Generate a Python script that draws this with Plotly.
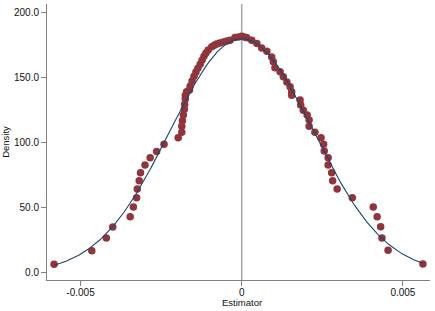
import numpy as np
import plotly.graph_objects as go

# Estimates (x) and their density values (y)
est_x = [-0.00582, -0.00465, -0.00420, -0.00400, -0.00346, -0.00336, -0.00326, -0.00324,
         -0.00318, -0.00314, -0.00300, -0.00284, -0.00264, -0.00241, -0.00197, -0.00186,
         -0.00186, -0.00184, -0.00181, -0.00178, -0.00177, -0.00175, -0.00175, -0.00171,
         -0.00162, -0.00160, -0.00154, -0.00148, -0.00142, -0.00136, -0.00129, -0.00123,
         -0.00117, -0.00111, -0.00104, -0.00093, -0.00085, -0.00078, -0.00068, -0.00057,
         -0.00046, -0.00036, -0.00021, -0.00010, 0.00000,
         0.00008, 0.00016, 0.00031, 0.00047, 0.00062, 0.00078, 0.00093, 0.00098, 0.00103,
         0.00119, 0.00129, 0.00140, 0.00150, 0.00155, 0.00155, 0.00181, 0.00183, 0.00191,
         0.00203, 0.00209, 0.00209, 0.00227, 0.00246, 0.00254, 0.00256, 0.00268, 0.00268,
         0.00279, 0.00282, 0.00296, 0.00343, 0.00408, 0.00420, 0.00431, 0.00435, 0.00454,
         0.00562]
est_y = [6.4, 16.9, 26.6, 35.1, 43.0, 50.4, 57.5, 64.2,
         70.6, 76.7, 82.6, 88.2, 93.0, 98.6, 103.6, 107.9,
         112.5, 116.6, 121.0, 125.4, 129.4, 133.3, 136.1, 138.9,
         140.2, 143.2, 147.1, 150.9, 154.0, 157.0, 160.1, 163.2,
         166.2, 168.6, 170.9, 173.4, 174.6, 175.5, 176.4, 177.2,
         177.8, 178.5, 180.6, 181.0, 181.6,
         181.0, 180.3, 178.5, 176.0, 172.6, 170.1, 165.7, 161.9, 157.3,
         154.2, 150.4, 146.5, 142.7, 138.9, 136.3, 132.5, 128.7, 124.8,
         121.0, 117.2, 112.5, 107.9, 103.6, 98.7, 93.4, 88.2, 82.6,
         76.7, 70.6, 64.2, 57.5, 50.4, 43.0, 35.3, 26.6, 17.2,
         6.7]

# Normal density parameters
norm_mean = 0.0
norm_sd = 0.00222

x_ticks = [-0.005, 0, 0.005]
x_tick_labels = ["-0.005", "0", "0.005"]
y_ticks = [0, 50, 100, 150, 200]
y_tick_labels = ["0.0", "50.0", "100.0", "150.0", "200.0"]

xr = [-0.00604, 0.00584]
yr = [-5.6, 206.3]

cx = np.linspace(min(est_x), max(est_x), 400)
cy = np.exp(-0.5 * ((cx - norm_mean) / norm_sd) ** 2) / (norm_sd * np.sqrt(2 * np.pi))

fig = go.Figure()
fig.add_trace(go.Scatter(x=[0, 0], y=yr, mode="lines",
                         line=dict(color="#aaaaaa", width=1.6), hoverinfo="skip"))
fig.add_trace(go.Scatter(x=est_x, y=est_y, mode="markers",
                         marker=dict(color="#90353b", size=7.5, line=dict(width=0))))
fig.add_trace(go.Scatter(x=cx, y=cy, mode="lines",
                         line=dict(color="#1a476f", width=1.1)))

font_main = "Liberation Sans, Arial"
axis_common = dict(showgrid=False, zeroline=False, showline=True, linecolor="#808080",
                   linewidth=1, ticks="outside", ticklen=5, tickcolor="#808080",
                   automargin=False,
                   tickfont=dict(family=font_main, size=10, color="#111"))
fig.update_layout(
    template="none",
    width=435, height=311,
    margin=dict(l=47, r=5, t=4, b=31, autoexpand=False),
    paper_bgcolor="white", plot_bgcolor="white",
    showlegend=False,
    xaxis=dict(range=xr, tickvals=x_ticks, ticktext=x_tick_labels,
               ticklabelstandoff=-2, **axis_common),
    yaxis=dict(range=yr, tickvals=y_ticks, ticktext=y_tick_labels,
               title=dict(text="Density", standoff=4,
                          font=dict(family=font_main, size=9.5, color="#111")),
               **axis_common),
    annotations=[dict(text="Estimator", xref="paper", yref="paper", x=0.508, y=-0.083,
                      xanchor="center", yanchor="middle", showarrow=False,
                      font=dict(family=font_main, size=9.5, color="#111"))],
)
fig.write_html("out.html", config={"displayModeBar": False},
               post_script="document.body.style.margin='0';document.body.style.overflow='hidden';")
